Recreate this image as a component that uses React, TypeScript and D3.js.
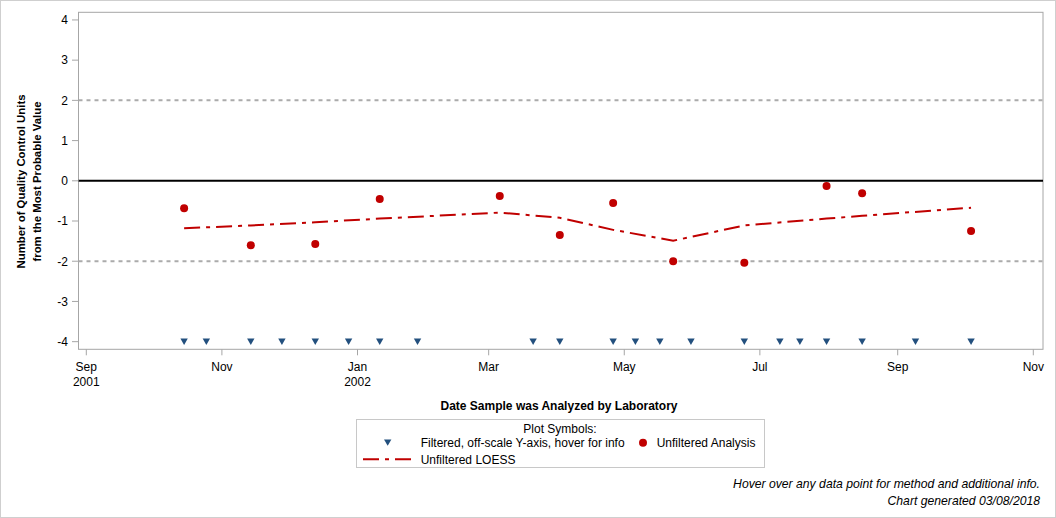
import React from "react";
import * as d3 from "d3";

// ---- data ----
const unfilteredDates = ["2001-10-15","2001-11-14","2001-12-13","2002-01-11","2002-03-06","2002-04-02","2002-04-26","2002-05-23","2002-06-24","2002-07-31","2002-08-16","2002-10-04"];
const unfilteredValues = [-0.68,-1.60,-1.57,-0.45,-0.38,-1.35,-0.55,-2.00,-2.04,-0.13,-0.31,-1.25];
const loessValues = [-1.18,-1.11,-1.03,-0.94,-0.79,-0.92,-1.22,-1.49,-1.11,-0.94,-0.87,-0.67];
const filteredDates = ["2001-10-15","2001-10-25","2001-11-14","2001-11-28","2001-12-13","2001-12-28","2002-01-11","2002-01-28","2002-03-21","2002-04-02","2002-04-26","2002-05-06","2002-05-17","2002-05-31","2002-06-24","2002-07-10","2002-07-19","2002-07-31","2002-08-16","2002-09-09","2002-10-04"];
const filteredValue = -4;
const xTickDates = ["2001-09-01","2001-11-01","2002-01-01","2002-03-01","2002-05-01","2002-07-01","2002-09-01","2002-11-01"];
const xTickMonths = ["Sep","Nov","Jan","Mar","May","Jul","Sep","Nov"];
const xTickYears = ["2001","","2002","","","","",""];
const yTicks = [-4,-3,-2,-1,0,1,2,3,4];
const refLines = [2, -2];

const parse = (s: string) => {
  const [y, m, d] = s.split("-").map(Number);
  return new Date(Date.UTC(y, m - 1, d));
};

const W = 1056, H = 518;
const left = 78.5, right = 1043, top = 12.3, bottom = 349.3;

export default function App() {
  const x = d3.scaleUtc().domain([parse("2001-09-01"), parse("2002-11-01")]).range([86.3, 1033.3]);
  const y = d3.scaleLinear().domain([-4.19, 4.19]).range([bottom, top]);
  const red = "#C00000";
  const blue = "#23507E";
  const font = "'Liberation Sans', Arial, sans-serif";
  const tri = "M-3.7,-3.1 L3.7,-3.1 L0,3.3 Z";

  const loessLine = d3.line<number>()
    .x((_, i) => x(parse(unfilteredDates[i])))
    .y((v) => y(v));

  return (
    <svg width={W} height={H} style={{ position: "absolute", left: 0, top: 0 }} fontFamily={font}>
      <rect x={0.5} y={0.5} width={W - 1} height={H - 1} fill="#fff" stroke="#cfcfcf" />
      {/* plot frame */}
      <rect x={left} y={top} width={right - left} height={bottom - top} fill="#fff" stroke="#a6a6a6" strokeWidth={1} />
      {/* reference lines */}
      {refLines.map((r) => (
        <line key={r} x1={left} x2={right} y1={y(r)} y2={y(r)} stroke="#ababab" strokeWidth={2} strokeDasharray="4,4" />
      ))}
      <line x1={left} x2={right} y1={y(0)} y2={y(0)} stroke="#000" strokeWidth={2} />
      {/* y axis */}
      {yTicks.map((t) => (
        <g key={t}>
          <line x1={left - 6.5} x2={left} y1={y(t)} y2={y(t)} stroke="#a6a6a6" />
          <text x={68} y={y(t) + 4.3} textAnchor="end" fontSize={12} fill="#000">{t}</text>
        </g>
      ))}
      {/* x axis */}
      {xTickDates.map((d, i) => {
        const px = x(parse(d));
        return (
          <g key={d}>
            <line x1={px} x2={px} y1={bottom} y2={bottom + 6} stroke="#a6a6a6" />
            <text x={px} y={371} textAnchor="middle" fontSize={12} fill="#000">{xTickMonths[i]}</text>
            {xTickYears[i] && <text x={px} y={386} textAnchor="middle" fontSize={12} fill="#000">{xTickYears[i]}</text>}
          </g>
        );
      })}
      {/* titles */}
      <text transform="translate(24.5,181.5) rotate(-90)" textAnchor="middle" fontSize={11.4} fontWeight="bold">Number of Quality Control Units</text>
      <text transform="translate(41,181.5) rotate(-90)" textAnchor="middle" fontSize={11.4} fontWeight="bold">from the Most Probable Value</text>
      <text x={559} y={409.5} textAnchor="middle" fontSize={12} fontWeight="bold">Date Sample was Analyzed by Laboratory</text>
      {/* loess */}
      <path d={loessLine(loessValues) || ""} fill="none" stroke={red} strokeWidth={2} strokeDasharray="16,6,4,6" />
      {/* filtered */}
      {filteredDates.map((d, i) => (
        <path key={i} d={tri} transform={`translate(${x(parse(d))},${y(filteredValue)})`} fill={blue} />
      ))}
      {/* unfiltered */}
      {unfilteredDates.map((d, i) => (
        <circle key={i} cx={x(parse(d))} cy={y(unfilteredValues[i])} r={4} fill={red} />
      ))}
      {/* legend */}
      <rect x={356.5} y={419.5} width={408} height={48} fill="#fff" stroke="#c8c8c8" />
      <text x={560} y={432.5} textAnchor="middle" fontSize={12}>Plot Symbols:</text>
      <path d={tri} transform="translate(387.7,442.5)" fill={blue} />
      <text x={420.7} y={447} fontSize={12}>Filtered, off-scale Y-axis, hover for info</text>
      <circle cx={643} cy={442.7} r={4} fill={red} />
      <text x={656.7} y={447} fontSize={12}>Unfiltered Analysis</text>
      <line x1={363} x2={411} y1={459.3} y2={459.3} stroke={red} strokeWidth={2} strokeDasharray="16,6,4,6" />
      <text x={420.7} y={463.5} fontSize={12}>Unfiltered LOESS</text>
      {/* footer */}
      <text x={1040} y={488} textAnchor="end" fontSize={12.2} fontStyle="italic">Hover over any data point for method and additional info.</text>
      <text x={1040} y={505} textAnchor="end" fontSize={12.2} fontStyle="italic">Chart generated 03/08/2018</text>
    </svg>
  );
}
